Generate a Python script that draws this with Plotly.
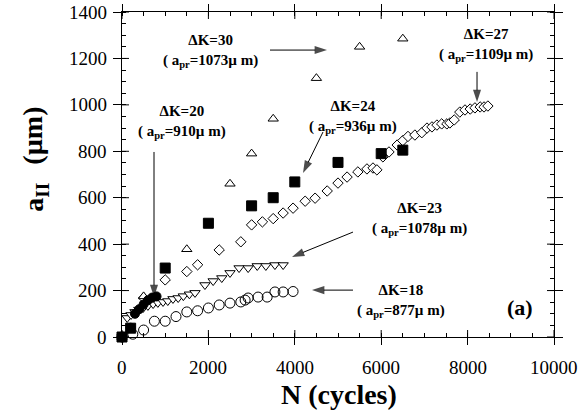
import plotly.graph_objects as go

# ---------------- data ----------------
# ΔK=30 (open up-triangles)
tri_N = [0, 500, 1500, 2500, 3000, 3500, 4500, 5500, 6500]
tri_a = [0, 175, 378, 660, 790, 940, 1115, 1250, 1285]

# ΔK=24 (filled squares)
sq_N = [0, 200, 1000, 2000, 3000, 3500, 4000, 5000, 6000, 6500]
sq_a = [0, 38, 297, 490, 565, 600, 668, 752, 790, 805]

# ΔK=20 (filled circles)
fc_N = [0, 200, 300, 400, 500, 600, 700, 800]
fc_a = [0, 40, 100, 120, 140, 158, 170, 175]

# ΔK=27 (open diamonds)
dia_N = [0, 500, 1000, 1500, 1750, 2250, 2750, 3000, 3250, 3500, 3730, 3960, 4240,
         4470, 4750, 5000, 5210, 5460, 5670, 5810, 5900, 6040, 6180, 6370, 6500,
         6620, 6780, 6940, 7060, 7175, 7290, 7400, 7520, 7590, 7690, 7820, 7940,
         8060, 8170, 8290, 8380, 8470]
dia_a = [0, 168, 246, 282, 311, 375, 410, 483, 496, 510, 534, 555, 585, 598, 629,
         663, 689, 711, 724, 728, 720, 776, 797, 827, 846, 864, 870, 880, 900,
         905, 913, 918, 918, 922, 935, 969, 978, 982, 987, 991, 991, 995]

# ΔK=23 (open down-triangles)
dtri_N = [0, 120, 210, 300, 390, 490, 600, 720, 830, 950, 1060, 1180, 1300, 1420,
          1560, 1690, 1920, 2110, 2310, 2500, 2710, 2920, 3130, 3330, 3540, 3730]
dtri_a = [0, 82, 95, 108, 118, 125, 134, 142, 147, 151, 155, 164, 168, 176, 184,
          190, 224, 241, 254, 276, 297, 297, 306, 306, 310, 310]

# ΔK=18 (open circles)
circ_N = [0, 250, 500, 750, 1000, 1250, 1500, 1750, 2000, 2250, 2500, 2750, 2850,
          2920, 3150, 3360, 3540, 3730, 3960]
circ_a = [0, 12, 30, 68, 68, 88, 108, 113, 125, 138, 146, 151, 159, 168, 172, 172,
          194, 194, 196]

x_ticks = [0, 2000, 4000, 6000, 8000, 10000]
x_tick_labels = ["0", "2000", "4000", "6000", "8000", "10000"]
y_ticks = [0, 200, 400, 600, 800, 1000, 1200, 1400]
y_tick_labels = ["0", "200", "400", "600", "800", "1000", "1200", "1400"]

FONT = "Liberation Serif"
BLK = "black"

fig = go.Figure()

def add(xs, ys, symbol, size, fill, lw=1):
    fig.add_trace(go.Scatter(
        x=xs, y=ys, mode="markers", cliponaxis=False, showlegend=False,
        hoverinfo="skip",
        marker=dict(symbol=symbol, size=size, color=fill,
                    line=dict(color=BLK, width=lw))))

add(circ_N, circ_a, "circle-open", 10, BLK)
add(dtri_N, dtri_a, "triangle-down", 9, "white")
add(dia_N, dia_a, "diamond", 8, "white")
add(tri_N, tri_a, "triangle-up", 9, "white")
add(sq_N, sq_a, "square", 10, BLK)
add(fc_N, fc_a, "circle", 9, BLK)

# ---------------- annotations ----------------
def label(x, y, dk, apr, size=15):
    s = "ΔK=" + dk + "<br>( a<sub>pr</sub>=" + apr + "µ m)"
    fig.add_annotation(x=x, y=y, text=s, showarrow=False, xanchor="center",
                       yanchor="middle", align="center",
                       font=dict(family=FONT, size=size, color=BLK, weight="bold"))

def arrow(x0, y0, x1, y1):
    # pointer line drawn as a line trace ending in an arrow-head marker
    fig.add_trace(go.Scatter(
        x=[x0, x1], y=[y0, y1], mode="lines+markers", showlegend=False,
        hoverinfo="skip", cliponaxis=False,
        line=dict(color=BLK, width=1),
        marker=dict(symbol=["circle", "arrow"], size=[0, 13], angleref="previous",
                    color=BLK, line=dict(width=0))))

label(2037, 1234, "30", "1073")
arrow(3426, 1236, 4745, 1236)

label(1389, 926, "20", "910")
arrow(741, 797, 741, 172)

label(5347, 949, "24", "936")
arrow(4653, 883, 4190, 707)

label(8426, 1260, "27", "1109")
arrow(8218, 1142, 8218, 1012)

label(6898, 510, "23", "1078")
arrow(5347, 452, 3935, 345)

label(6458, 154, "18", "877")
arrow(5347, 202, 4398, 202)

fig.add_annotation(x=9213, y=125, text="(a)", showarrow=False,
                   font=dict(family=FONT, size=22, color=BLK, weight="bold"))

# axis titles
title_font = dict(family=FONT, size=28, color=BLK, weight="bold")
fig.add_annotation(xref="paper", yref="paper", x=0.502, y=-0.178, showarrow=False,
                   text="N (cycles)", xanchor="center", yanchor="middle",
                   font=title_font)
fig.add_annotation(xref="paper", yref="paper", x=-0.208, y=0.62, showarrow=False,
                   text="(µm)", textangle=-90, xanchor="center", yanchor="middle",
                   font=title_font)
fig.add_annotation(xref="paper", yref="paper", x=-0.200, y=0.43, showarrow=False,
                   text="a<sub>II</sub>", textangle=-90, xanchor="center",
                   yanchor="middle", font=title_font)

# tick labels
tickfont = dict(family=FONT, size=19, color=BLK)
for xv, t in zip(x_ticks, x_tick_labels):
    fig.add_annotation(x=xv, xref="x", y=0, yref="paper", text=t, showarrow=False,
                       xanchor="center", yanchor="middle", yshift=-30,
                       font=tickfont)
for yv, t in zip(y_ticks, y_tick_labels):
    fig.add_annotation(x=0, xref="paper", y=yv, yref="y", text=t, showarrow=False,
                       xanchor="right", yanchor="middle", xshift=-13,
                       font=tickfont)

# inner half of the major ticks (they cross the frame), on all four sides
tick_line = dict(color=BLK, width=1)
for xv in x_ticks:
    for anchor, (p0, p1) in ((0, (0, 7)), (1, (0, -7))):
        fig.add_shape(type="line", xref="x", yref="paper", x0=xv, x1=xv,
                      ysizemode="pixel", yanchor=anchor, y0=p0, y1=p1,
                      line=tick_line)
for yv in y_ticks:
    for anchor, (p0, p1) in ((0, (0, 7)), (1, (0, -7))):
        fig.add_shape(type="line", yref="y", xref="paper", y0=yv, y1=yv,
                      xsizemode="pixel", xanchor=anchor, x0=p0, x1=p1,
                      line=tick_line)

common = dict(showgrid=False, zeroline=False, linecolor=BLK, linewidth=1,
              tickcolor=BLK, tickwidth=1, automargin=False, showline=True,
              mirror="ticks", ticks="outside", showticklabels=False)

fig.update_layout(
    width=580, height=418,
    margin=dict(l=122, r=26, t=12, b=81, autoexpand=False),
    paper_bgcolor="white", plot_bgcolor="white",
    xaxis=dict(range=[0, 10000], tickvals=x_ticks, ticklen=7,
               minor=dict(ticks="inside", ticklen=4, dtick=500, tickcolor=BLK,
                          showgrid=False), **common),
    yaxis=dict(range=[0, 1400], tickvals=y_ticks, ticklen=8,
               minor=dict(ticks="inside", ticklen=4, dtick=50, tickcolor=BLK,
                          showgrid=False), **common),
)

fig.write_html("out.html", config={"displayModeBar": False},
               post_script="document.body.style.margin='0';")
